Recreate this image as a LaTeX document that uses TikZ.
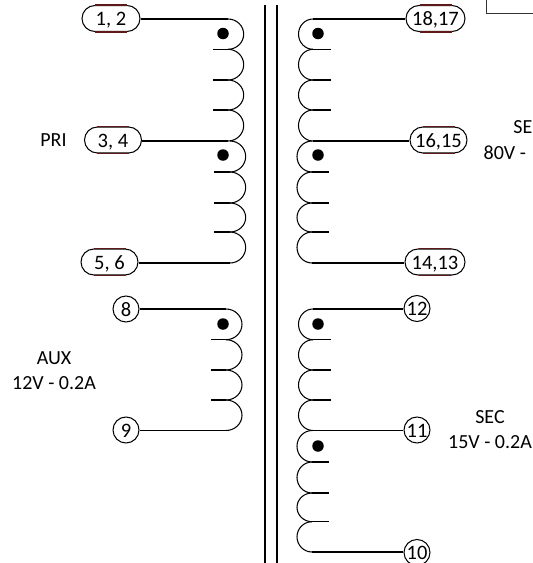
\documentclass[tikz,border=0pt]{standalone}
\usepackage{fontspec}
\setmainfont{Carlito}
\usetikzlibrary{shapes.misc}
\definecolor{pillred}{RGB}{95,25,25}
\tikzset{
  wire/.style={draw=black,line width=1.05pt},
  core/.style={draw=black,line width=1.1pt},
  pin/.style={draw=black,line width=1.05pt,circle,minimum size=26pt,inner sep=0pt,text height=14pt,text depth=0pt,font=\fontsize{20.5}{20.5}\selectfont},
  pill/.style={draw=black,line width=1.05pt,rounded rectangle,minimum height=26pt,inner sep=0pt,text height=14pt,text depth=0pt,font=\fontsize{20.5}{20.5}\selectfont},
  pillmark/.style={draw=pillred,line width=1.2pt},
  lbl/.style={inner sep=0pt,font=\fontsize{20}{20}\selectfont},
  dotmark/.style={fill=black,draw=none,circle,minimum size=11.5pt,inner sep=0pt},
}
% #1 x of the open side, #2 y0, #3 y1, #4 signed bulge
\newcommand{\turn}[4]{\draw[wire] (#1,#2) .. controls ({#1+0.55*#4},#2) and ({#1+#4},{#2+0.225*(#3-#2)}) .. ({#1+#4},{(#2+#3)/2}) .. controls ({#1+#4},{#2+0.775*(#3-#2)}) and ({#1+0.55*#4},#3) .. (#1,#3);}
\begin{document}
\begin{tikzpicture}[x=1pt,y=-1pt]
\useasboundingbox (0,0) rectangle (533,563);
\clip (0,0) rectangle (533,563);
% core
\coordinate (c1t) at (265,5); \coordinate (c1b) at (265,563);
\coordinate (c2t) at (277,5); \coordinate (c2b) at (277,563);
\draw[core] (c1t) -- (c1b);
\draw[core] (c2t) -- (c2b);
% terminals
\node[pill,minimum width=58pt] (p12) at (111,18.5) {1, 2};
\node[pill,minimum width=57pt] (p34) at (113,140) {3, 4};
\node[pill,minimum width=57pt] (p56) at (109.5,262) {5, 6};
\node[pill,minimum width=59pt] (p1817) at (435.5,18.5) {18,17};
\node[pill,minimum width=57pt] (p1615) at (438.5,140) {16,15};
\node[pill,minimum width=60pt] (p1413) at (435,262) {14,13};
\foreach \n in {p12,p34,p56,p1817,p1615,p1413}{
  \draw[pillmark] ([xshift=-16pt]\n.north) -- ([xshift=16pt]\n.north);
  \draw[pillmark] ([xshift=-16pt]\n.south) -- ([xshift=16pt]\n.south);
}
\node[pin] (t8) at (126,309) {8};
\node[pin] (t9) at (126,430) {9};
\node[pin] (t12) at (417,308.5) {12};
\node[pin] (t11) at (417,430) {11};
\node[pin] (t10) at (417,552.5) {10};
% winding ends
\coordinate (w12) at (228,19);
\coordinate (w34) at (228,141);
\coordinate (w56) at (230,263);
\coordinate (w1817) at (313,19);
\coordinate (w1615) at (313,141);
\coordinate (w1413) at (312,263);
\coordinate (w8) at (226,309);
\coordinate (w9) at (226,430.5);
\coordinate (w12s) at (313,309);
\coordinate (w11s) at (313,430.5);
\coordinate (w10s) at (312,552);
\draw[wire] (p12.east |- w12) -- (w12);
\draw[wire] (p34.east |- w34) -- (w34);
\draw[wire] (p56.east |- w56) -- (w56);
\draw[wire] (w1817) -- (p1817.west |- w1817);
\draw[wire] (w1615) -- (p1615.west |- w1615);
\draw[wire] (w1413) -- (p1413.west |- w1413);
\draw[wire] (t8.east |- w8) -- (w8);
\draw[wire] (t9.east |- w9) -- (w9);
\draw[wire] (w12s) -- (t12.west |- w12s);
\draw[wire] (w11s) -- (t11.west |- w11s);
\draw[wire] (w10s) -- (t10.west |- w10s);
% primary winding
\turn{228}{19}{49.3}{15.7}\turn{228}{49.3}{80}{15.7}\turn{228}{80}{110}{15.7}\turn{228}{110}{141}{15.7}
\turn{230}{141}{172}{15.7}\turn{230}{172}{203}{15.7}\turn{230}{203}{232}{15.7}\turn{230}{232}{263}{15.7}
\foreach \y in {49.3,80,110}{\draw[wire] (213,\y) -- (228,\y);}
\foreach \y in {172,203,232}{\draw[wire] (214,\y) -- (230,\y);}
% 80 V secondary
\turn{313}{19}{49.3}{-14.5}\turn{313}{49.3}{80}{-14.5}\turn{313}{80}{110}{-14.5}\turn{313}{110}{141}{-14.5}
\turn{312}{141}{172}{-15}\turn{312}{172}{203}{-15}\turn{312}{203}{232}{-15}\turn{312}{232}{263}{-15}
\foreach \y in {49.3,80,110}{\draw[wire] (313,\y) -- (331,\y);}
\foreach \y in {172,203,232}{\draw[wire] (312,\y) -- (329,\y);}
% aux winding
\turn{226}{309}{339.7}{16}\turn{226}{339.7}{370}{16}\turn{226}{370}{400}{16}\turn{226}{400}{430.5}{16}
\foreach \y in {339.7,370,400}{\draw[wire] (211,\y) -- (226,\y);}
% 15 V secondary
\turn{313}{309}{339.7}{-14.5}\turn{313}{339.7}{370}{-14.5}\turn{313}{370}{400}{-14.5}\turn{313}{400}{430.5}{-14.5}
\turn{312}{430.5}{462}{-15}\turn{312}{462}{493}{-15}\turn{312}{493}{521.7}{-15}\turn{312}{521.7}{552}{-15}
\foreach \y in {339.7,370,400}{\draw[wire] (313,\y) -- (331,\y);}
\foreach \y in {462,493,521.7}{\draw[wire] (312,\y) -- (329,\y);}
% dots
\node[dotmark] (d1) at (223,33.5) {};
\node[dotmark] (d2) at (223,155) {};
\node[dotmark] (d3) at (318,33.5) {};
\node[dotmark] (d4) at (318,155) {};
\node[dotmark] (d5) at (223,324) {};
\node[dotmark] (d6) at (318,324) {};
\node[dotmark] (d7) at (318,446) {};
% labels
\node[lbl] (lpri) at (53.5,140) {PRI};
\node[lbl] (laux) at (54,358) {AUX};
\node[lbl] (laux2) at (54,383) {12V - 0.2A};
\node[lbl] (lsec) at (490,417) {SEC};
\node[lbl] (lsec2) at (490,442) {15V - 0.2A};
\node[lbl,anchor=east] (lse) at (532.5,127) {SE};
\node[lbl,anchor=west] (l80) at (483.5,153) {80V -};
% cut-off box
\coordinate (b1) at (486,0); \coordinate (b2) at (486,13); \coordinate (b3) at (533,13);
\draw[draw=black!80,line width=0.9pt] (b1) -- (b2) -- (b3);
\end{tikzpicture}
\end{document}
